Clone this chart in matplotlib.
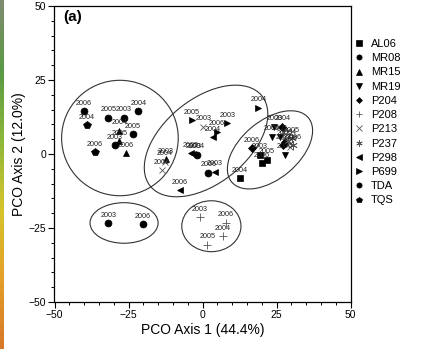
import numpy as np
import matplotlib
matplotlib.use("Agg")
import matplotlib.pyplot as plt
from matplotlib.patches import Ellipse
from matplotlib.colors import LinearSegmentedColormap

plt.rcParams['font.family'] = ['Liberation Sans', 'DejaVu Sans']

# site: marker, x, y, year labels
al06_x = [12.7, 19.4, 21.7, 20.0]
al06_y = [-8.2, -0.3, -2.0, -3.1]
al06_yr = ['2004', '2003', '2005', '2006']

mr08_x = [-40.0, -31.8, -26.5, -21.7, -2.0, 2.0]
mr08_y = [14.5, 12.3, 12.3, 14.5, -0.3, -6.3]
mr08_yr = ['2006', '2005', '2003', '2004', '2004', '2006']

mr15_x = [-28.1, -28.1, -25.8, -12.3]
mr15_y = [7.8, 4.4, 0.2, -1.8]
mr15_yr = ['2004', '2005', '2006', '2003']

mr19_x = [24.3, 23.4, 26.2, 27.9]
mr19_y = [9.2, 5.9, 5.9, -0.3]
mr19_yr = ['2003', '2004', '2005', '2006']

p204_x = [27.0, 16.6, 27.3, 27.9]
p204_y = [9.2, 1.9, 3.0, 4.2]
p204_yr = ['2004', '2006', '2003', '2005']

p208_x = [-0.8, 7.9, 7.0, 1.6]
p208_y = [-21.4, -23.2, -27.7, -30.7]
p208_yr = ['2003', '2006', '2004', '2005']

p213_x = [0.3, -13.8, -12.8, 29.5]
p213_y = [9.2, -5.4, -2.6, 2.5]
p213_yr = ['2003', '2006', '2004', '2005']

p237_x = [30.1, 30.7, 29.0]
p237_y = [5.3, 3.0, 4.5]
p237_yr = ['2005', '2006', '2004']

p298_x = [3.4, 4.2, -7.6, -4.0, -3.1]
p298_y = [5.6, -6.0, -12.2, 0.2, 0.0]
p298_yr = ['2004', '2003', '2006', '2005', '2003']

p699_x = [-3.6, 8.4, 18.9, 4.8]
p699_y = [11.5, 10.4, 15.6, 7.5]
p699_yr = ['2005', '2003', '2004', '2006']

tda_x = [-23.6, -29.6, -31.8, -20.2]
tda_y = [6.7, 3.0, -23.4, -23.8]
tda_yr = ['2005', '2003', '2003', '2006']

tqs_x = [-39.1, -36.3]
tqs_y = [9.8, 0.6]
tqs_yr = ['2004', '2006']

# ellipse groups: centre x, centre y, width, height, angle
ell_cx = [-27.9, 1.2, 22.8, -26.5, 3.0]
ell_cy = [5.4, 4.4, 1.4, -23.3, -24.4]
ell_w = [39.4, 48.5, 33.8, 23.0, 20.0]
ell_h = [39.0, 28.5, 19.6, 13.7, 17.2]
ell_a = [0, 39, 40, 0, 0]

sites = [
    ('AL06', 's', 5.0, al06_x, al06_y, al06_yr),
    ('MR08', 'o', 5.0, mr08_x, mr08_y, mr08_yr),
    ('MR15', '^', 5.0, mr15_x, mr15_y, mr15_yr),
    ('MR19', 'v', 5.0, mr19_x, mr19_y, mr19_yr),
    ('P204', 'D', 4.0, p204_x, p204_y, p204_yr),
    ('P208', '+', 6.0, p208_x, p208_y, p208_yr),
    ('P213', 'x', 5.0, p213_x, p213_y, p213_yr),
    ('P237', (6, 2, 0), 6.0, p237_x, p237_y, p237_yr),
    ('P298', '<', 5.0, p298_x, p298_y, p298_yr),
    ('P699', '>', 5.0, p699_x, p699_y, p699_yr),
    ('TDA', 'o', 5.0, tda_x, tda_y, tda_yr),
    ('TQS', 'p', 5.5, tqs_x, tqs_y, tqs_yr),
]

fig = plt.figure(figsize=(4.21, 3.49), dpi=100)
ax = fig.add_axes([54.5 / 421, 47 / 349, 296 / 421, 296 / 349])

for name, mk, ms, xs, ys, yrs in sites:
    thin = mk in ('+', 'x', (6, 2, 0))
    col = '#555555' if thin else 'black'
    ax.plot(xs, ys, linestyle='none', marker=mk, markersize=ms, color=col,
            markeredgewidth=0.6 if thin else 0.5, label=name)
    for x, y, t in zip(xs, ys, yrs):
        ax.annotate(t, (x, y), xytext=(0, 3.2), textcoords='offset points',
                    ha='center', va='bottom', fontsize=5.2, color='#222222')

for cx, cy, w, h, a in zip(ell_cx, ell_cy, ell_w, ell_h, ell_a):
    ax.add_patch(Ellipse((cx, cy), w, h, angle=a, fill=False,
                         edgecolor='#333333', linewidth=0.8))

ax.set_xlim(-50, 50)
ax.set_ylim(-50, 50)
ax.set_xticks([-50, -25, 0, 25, 50])
ax.set_yticks([-50, -25, 0, 25, 50])
ax.set_xticks(np.arange(-50, 51, 5), minor=True)
ax.set_yticks(np.arange(-50, 51, 5), minor=True)
ax.tick_params(which='major', direction='out', length=4, width=0.8, labelsize=7.5, pad=2)
ax.tick_params(which='minor', direction='out', length=2.5, width=0.7)
for s in ax.spines.values():
    s.set_linewidth(0.9)

ax.set_xlabel('PCO Axis 1 (44.4%)', fontsize=10, labelpad=2)
ax.set_ylabel('PCO Axis 2 (12.0%)', fontsize=10, labelpad=2)
ax.text(0.028, 0.985, '(a)', transform=ax.transAxes, fontsize=11,
        fontweight='bold', ha='left', va='top')

fig.legend(loc='upper left', bbox_to_anchor=(353 / 421, 1 - 39 / 349),
           frameon=False, fontsize=8, handlelength=1.0, handletextpad=0.6,
           labelspacing=0.38, borderaxespad=0, borderpad=0, markerscale=0.75)

# thin coloured strip at the left edge of the source image
strip = fig.add_axes([0, 0, 4 / 421, 1])
cmap = LinearSegmentedColormap.from_list(
    'edge', ['#7f8c70', '#5a9a45', '#8cb83a', '#d8c42c', '#e4a028', '#d8782a'])
strip.imshow(np.linspace(0, 1, 100).reshape(-1, 1), cmap=cmap, aspect='auto')
strip.axis('off')

fig.savefig('out.png', dpi=100)
